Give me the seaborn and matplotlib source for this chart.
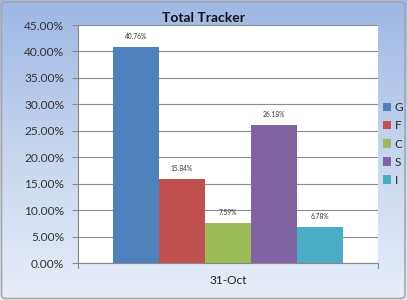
import numpy as np
import pandas as pd
import matplotlib
matplotlib.use("Agg")
import matplotlib.pyplot as plt
from matplotlib.patches import FancyBboxPatch
from matplotlib.colors import LinearSegmentedColormap
import seaborn as sns

# ---- data ----
series = ["G", "F", "C", "S", "I"]
values = [40.76, 15.84, 7.59, 26.18, 6.78]
category = ["31-Oct"] * len(series)
colors = ["#4F81BD", "#C0504D", "#9BBB59", "#8064A2", "#4BACC6"]
yticks = [0, 5, 10, 15, 20, 25, 30, 35, 40, 45]
title = "Total Tracker"

df = pd.DataFrame({"date": category, "series": series, "value": values})

sns.set_theme(style="white")
plt.rcParams["font.family"] = ["Lato", "DejaVu Sans"]

W, H = 407, 300
fig = plt.figure(figsize=(W / 100, H / 100), dpi=100)

# gradient background
bg = fig.add_axes([0, 0, 1, 1], zorder=0)
bg.set_axis_off()
grad = np.linspace(0, 1, 256).reshape(-1, 1)
cmap = LinearSegmentedColormap.from_list("bgc", ["#9db8e4", "#c6d5ef", "#e9eef8"])
bg.imshow(grad, aspect="auto", cmap=cmap, extent=[0, 1, 0, 1], origin="upper")
bg.set_xlim(0, 1)
bg.set_ylim(0, 1)
bg.add_patch(FancyBboxPatch((1.5 / W, 1.5 / H), 1 - 3.5 / W, 1 - 3.5 / H,
                            boxstyle="round,pad=0,rounding_size=0.012",
                            fill=False, edgecolor="#a6a6a6", linewidth=1.2,
                            transform=bg.transAxes))

# plot area: x 78..378, y 25..263 (pixels from top)
ax = fig.add_axes([78 / W, 1 - 263 / H, 300 / W, 238 / H], zorder=1)
sns.barplot(data=df, x="date", y="value", hue="series", palette=colors,
            width=0.767, gap=0, ax=ax, legend=True, saturation=1,
            edgecolor="none", linewidth=0)
ax.set_facecolor("white")
ax.set_ylim(0, 45)
ax.set_xlim(-0.5, 0.5)
ax.set_yticks(yticks)
ax.set_yticklabels([f"{v:.2f}%" for v in yticks], fontsize=8.6, color="#333333")
ax.tick_params(axis="y", length=4, width=0.8, color="#888888", pad=6, left=True)
ax.tick_params(axis="x", length=0, pad=9, labelsize=8.6, labelcolor="#222222")
ax.set_xlabel("")
ax.set_ylabel("")
ax.yaxis.grid(True, color="#8c8c8c", linewidth=0.8)
ax.set_axisbelow(True)
for s in ["top", "right"]:
    ax.spines[s].set_visible(False)
for s in ["left", "bottom"]:
    ax.spines[s].set_color("#888888")
    ax.spines[s].set_linewidth(0.8)
# end tick marks on category axis
for xv in (-0.5, 0.5):
    ax.plot([xv, xv], [0, -0.02], transform=ax.get_xaxis_transform(),
            color="#888888", linewidth=0.8, clip_on=False)

for cont, v in zip(ax.containers, values):
    ax.bar_label(cont, labels=[f"{v:.2f}%"], fontsize=4.8, color="#333333", padding=5)

handles, labels = ax.get_legend_handles_labels()
leg = ax.legend(handles, labels, loc="center left", bbox_to_anchor=(1.0, 0.5),
                frameon=False, fontsize=8.6, handlelength=0.7, handleheight=0.7,
                handletextpad=0.3, labelspacing=0.6, borderaxespad=0.0,
                borderpad=0.4)

fig.text(203 / W, 1 - 18 / H, title, ha="center", va="center",
         fontsize=10, fontweight="bold", color="#111111")

fig.savefig("out.png", dpi=100)
